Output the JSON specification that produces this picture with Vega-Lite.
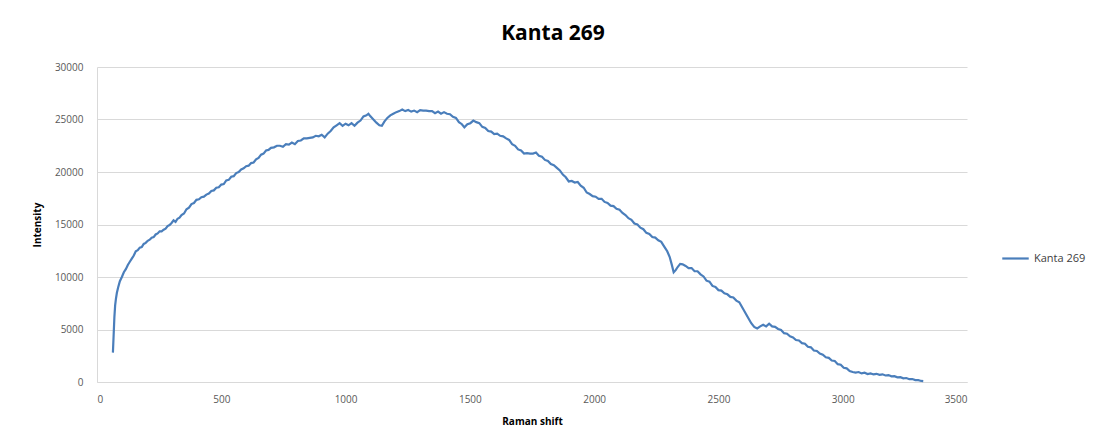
{
  "$schema": "https://vega.github.io/schema/vega-lite/v6.json",
  "autosize": "none",
  "width": 870,
  "height": 315,
  "padding": {"left": 97, "top": 67, "right": 138, "bottom": 63},
  "background": "white",
  "title": {"text": "Kanta 269", "font": "Open Sans", "fontSize": 21, "fontWeight": "bold", "color": "#000000", "anchor": "middle", "dx": 21, "offset": 18},
  "config": {
    "view": {"stroke": null},
    "font": "Open Sans"
  },
  "data": {"values": [
    {"s":"Kanta 269","x":64,"y":2800},{"s":"Kanta 269","x":67,"y":4500},{"s":"Kanta 269","x":70,"y":6200},{"s":"Kanta 269","x":73,"y":7300},{"s":"Kanta 269","x":76,"y":7900},{"s":"Kanta 269","x":80,"y":8500},{"s":"Kanta 269","x":85,"y":9000},{"s":"Kanta 269","x":92,"y":9600},{"s":"Kanta 269","x":100,"y":10000},{"s":"Kanta 269","x":108,"y":10450},{"s":"Kanta 269","x":116,"y":10750},{"s":"Kanta 269","x":124,"y":11150},{"s":"Kanta 269","x":132,"y":11450},{"s":"Kanta 269","x":140,"y":11750},{"s":"Kanta 269","x":148,"y":12050},{"s":"Kanta 269","x":156,"y":12450},{"s":"Kanta 269","x":164,"y":12550},{"s":"Kanta 269","x":172,"y":12800},{"s":"Kanta 269","x":180,"y":12850},{"s":"Kanta 269","x":188,"y":13150},{"s":"Kanta 269","x":196,"y":13250},{"s":"Kanta 269","x":204,"y":13450},{"s":"Kanta 269","x":212,"y":13550},{"s":"Kanta 269","x":220,"y":13750},{"s":"Kanta 269","x":228,"y":13800},{"s":"Kanta 269","x":236,"y":14050},{"s":"Kanta 269","x":244,"y":14150},{"s":"Kanta 269","x":252,"y":14350},{"s":"Kanta 269","x":260,"y":14350},{"s":"Kanta 269","x":268,"y":14500},{"s":"Kanta 269","x":276,"y":14600},{"s":"Kanta 269","x":284,"y":14850},{"s":"Kanta 269","x":292,"y":14950},{"s":"Kanta 269","x":300,"y":15150},{"s":"Kanta 269","x":308,"y":15400},{"s":"Kanta 269","x":316,"y":15250},{"s":"Kanta 269","x":324,"y":15550},{"s":"Kanta 269","x":332,"y":15650},{"s":"Kanta 269","x":340,"y":15900},{"s":"Kanta 269","x":350,"y":16050},{"s":"Kanta 269","x":360,"y":16450},{"s":"Kanta 269","x":370,"y":16600},{"s":"Kanta 269","x":380,"y":16950},{"s":"Kanta 269","x":390,"y":17050},{"s":"Kanta 269","x":400,"y":17350},{"s":"Kanta 269","x":410,"y":17400},{"s":"Kanta 269","x":420,"y":17600},{"s":"Kanta 269","x":430,"y":17650},{"s":"Kanta 269","x":440,"y":17850},{"s":"Kanta 269","x":450,"y":17950},{"s":"Kanta 269","x":460,"y":18200},{"s":"Kanta 269","x":470,"y":18250},{"s":"Kanta 269","x":480,"y":18500},{"s":"Kanta 269","x":490,"y":18550},{"s":"Kanta 269","x":500,"y":18800},{"s":"Kanta 269","x":510,"y":18850},{"s":"Kanta 269","x":520,"y":19200},{"s":"Kanta 269","x":530,"y":19250},{"s":"Kanta 269","x":540,"y":19550},{"s":"Kanta 269","x":550,"y":19600},{"s":"Kanta 269","x":560,"y":19900},{"s":"Kanta 269","x":570,"y":20000},{"s":"Kanta 269","x":580,"y":20250},{"s":"Kanta 269","x":590,"y":20350},{"s":"Kanta 269","x":600,"y":20550},{"s":"Kanta 269","x":610,"y":20600},{"s":"Kanta 269","x":620,"y":20850},{"s":"Kanta 269","x":630,"y":20900},{"s":"Kanta 269","x":640,"y":21200},{"s":"Kanta 269","x":650,"y":21350},{"s":"Kanta 269","x":660,"y":21650},{"s":"Kanta 269","x":670,"y":21750},{"s":"Kanta 269","x":680,"y":22050},{"s":"Kanta 269","x":690,"y":22100},{"s":"Kanta 269","x":700,"y":22300},{"s":"Kanta 269","x":712,"y":22350},{"s":"Kanta 269","x":724,"y":22500},{"s":"Kanta 269","x":736,"y":22500},{"s":"Kanta 269","x":748,"y":22400},{"s":"Kanta 269","x":760,"y":22650},{"s":"Kanta 269","x":772,"y":22600},{"s":"Kanta 269","x":784,"y":22800},{"s":"Kanta 269","x":796,"y":22650},{"s":"Kanta 269","x":808,"y":22950},{"s":"Kanta 269","x":820,"y":23000},{"s":"Kanta 269","x":832,"y":23200},{"s":"Kanta 269","x":844,"y":23200},{"s":"Kanta 269","x":856,"y":23250},{"s":"Kanta 269","x":868,"y":23300},{"s":"Kanta 269","x":880,"y":23450},{"s":"Kanta 269","x":892,"y":23400},{"s":"Kanta 269","x":904,"y":23550},{"s":"Kanta 269","x":916,"y":23300},{"s":"Kanta 269","x":928,"y":23650},{"s":"Kanta 269","x":940,"y":23900},{"s":"Kanta 269","x":952,"y":24250},{"s":"Kanta 269","x":964,"y":24450},{"s":"Kanta 269","x":976,"y":24650},{"s":"Kanta 269","x":988,"y":24400},{"s":"Kanta 269","x":1000,"y":24600},{"s":"Kanta 269","x":1012,"y":24450},{"s":"Kanta 269","x":1024,"y":24650},{"s":"Kanta 269","x":1036,"y":24400},{"s":"Kanta 269","x":1048,"y":24700},{"s":"Kanta 269","x":1060,"y":24900},{"s":"Kanta 269","x":1072,"y":25300},{"s":"Kanta 269","x":1084,"y":25400},{"s":"Kanta 269","x":1092,"y":25550},{"s":"Kanta 269","x":1100,"y":25300},{"s":"Kanta 269","x":1112,"y":25000},{"s":"Kanta 269","x":1124,"y":24700},{"s":"Kanta 269","x":1136,"y":24450},{"s":"Kanta 269","x":1146,"y":24400},{"s":"Kanta 269","x":1156,"y":24800},{"s":"Kanta 269","x":1168,"y":25150},{"s":"Kanta 269","x":1180,"y":25400},{"s":"Kanta 269","x":1192,"y":25550},{"s":"Kanta 269","x":1204,"y":25700},{"s":"Kanta 269","x":1216,"y":25800},{"s":"Kanta 269","x":1228,"y":25950},{"s":"Kanta 269","x":1240,"y":25800},{"s":"Kanta 269","x":1252,"y":25900},{"s":"Kanta 269","x":1264,"y":25750},{"s":"Kanta 269","x":1276,"y":25850},{"s":"Kanta 269","x":1288,"y":25700},{"s":"Kanta 269","x":1300,"y":25900},{"s":"Kanta 269","x":1312,"y":25850},{"s":"Kanta 269","x":1324,"y":25850},{"s":"Kanta 269","x":1336,"y":25800},{"s":"Kanta 269","x":1348,"y":25800},{"s":"Kanta 269","x":1360,"y":25600},{"s":"Kanta 269","x":1372,"y":25750},{"s":"Kanta 269","x":1384,"y":25550},{"s":"Kanta 269","x":1396,"y":25700},{"s":"Kanta 269","x":1408,"y":25550},{"s":"Kanta 269","x":1420,"y":25500},{"s":"Kanta 269","x":1432,"y":25250},{"s":"Kanta 269","x":1444,"y":25150},{"s":"Kanta 269","x":1456,"y":24750},{"s":"Kanta 269","x":1468,"y":24550},{"s":"Kanta 269","x":1478,"y":24250},{"s":"Kanta 269","x":1490,"y":24550},{"s":"Kanta 269","x":1502,"y":24650},{"s":"Kanta 269","x":1514,"y":24900},{"s":"Kanta 269","x":1526,"y":24750},{"s":"Kanta 269","x":1538,"y":24650},{"s":"Kanta 269","x":1550,"y":24300},{"s":"Kanta 269","x":1562,"y":24200},{"s":"Kanta 269","x":1574,"y":23900},{"s":"Kanta 269","x":1586,"y":23850},{"s":"Kanta 269","x":1598,"y":23600},{"s":"Kanta 269","x":1610,"y":23650},{"s":"Kanta 269","x":1622,"y":23450},{"s":"Kanta 269","x":1634,"y":23400},{"s":"Kanta 269","x":1646,"y":23200},{"s":"Kanta 269","x":1658,"y":23050},{"s":"Kanta 269","x":1670,"y":22650},{"s":"Kanta 269","x":1682,"y":22500},{"s":"Kanta 269","x":1694,"y":22150},{"s":"Kanta 269","x":1706,"y":22050},{"s":"Kanta 269","x":1718,"y":21750},{"s":"Kanta 269","x":1730,"y":21800},{"s":"Kanta 269","x":1742,"y":21750},{"s":"Kanta 269","x":1754,"y":21750},{"s":"Kanta 269","x":1766,"y":21850},{"s":"Kanta 269","x":1778,"y":21550},{"s":"Kanta 269","x":1790,"y":21450},{"s":"Kanta 269","x":1802,"y":21150},{"s":"Kanta 269","x":1814,"y":21050},{"s":"Kanta 269","x":1826,"y":20750},{"s":"Kanta 269","x":1838,"y":20650},{"s":"Kanta 269","x":1850,"y":20400},{"s":"Kanta 269","x":1862,"y":20150},{"s":"Kanta 269","x":1874,"y":19750},{"s":"Kanta 269","x":1886,"y":19500},{"s":"Kanta 269","x":1898,"y":19100},{"s":"Kanta 269","x":1910,"y":19150},{"s":"Kanta 269","x":1922,"y":19000},{"s":"Kanta 269","x":1934,"y":19050},{"s":"Kanta 269","x":1946,"y":18700},{"s":"Kanta 269","x":1958,"y":18500},{"s":"Kanta 269","x":1970,"y":18050},{"s":"Kanta 269","x":1982,"y":17900},{"s":"Kanta 269","x":1994,"y":17700},{"s":"Kanta 269","x":2006,"y":17650},{"s":"Kanta 269","x":2018,"y":17450},{"s":"Kanta 269","x":2030,"y":17450},{"s":"Kanta 269","x":2042,"y":17150},{"s":"Kanta 269","x":2054,"y":17050},{"s":"Kanta 269","x":2066,"y":16800},{"s":"Kanta 269","x":2078,"y":16750},{"s":"Kanta 269","x":2090,"y":16500},{"s":"Kanta 269","x":2102,"y":16400},{"s":"Kanta 269","x":2114,"y":16100},{"s":"Kanta 269","x":2126,"y":15900},{"s":"Kanta 269","x":2138,"y":15600},{"s":"Kanta 269","x":2150,"y":15450},{"s":"Kanta 269","x":2162,"y":15100},{"s":"Kanta 269","x":2174,"y":15000},{"s":"Kanta 269","x":2186,"y":14700},{"s":"Kanta 269","x":2198,"y":14550},{"s":"Kanta 269","x":2210,"y":14200},{"s":"Kanta 269","x":2222,"y":14100},{"s":"Kanta 269","x":2234,"y":13800},{"s":"Kanta 269","x":2246,"y":13750},{"s":"Kanta 269","x":2258,"y":13500},{"s":"Kanta 269","x":2270,"y":13350},{"s":"Kanta 269","x":2282,"y":12900},{"s":"Kanta 269","x":2294,"y":12450},{"s":"Kanta 269","x":2304,"y":11900},{"s":"Kanta 269","x":2312,"y":11200},{"s":"Kanta 269","x":2320,"y":10450},{"s":"Kanta 269","x":2328,"y":10650},{"s":"Kanta 269","x":2336,"y":10950},{"s":"Kanta 269","x":2346,"y":11250},{"s":"Kanta 269","x":2356,"y":11200},{"s":"Kanta 269","x":2368,"y":11050},{"s":"Kanta 269","x":2380,"y":10850},{"s":"Kanta 269","x":2392,"y":10850},{"s":"Kanta 269","x":2404,"y":10550},{"s":"Kanta 269","x":2416,"y":10550},{"s":"Kanta 269","x":2428,"y":10250},{"s":"Kanta 269","x":2440,"y":10050},{"s":"Kanta 269","x":2452,"y":9650},{"s":"Kanta 269","x":2464,"y":9550},{"s":"Kanta 269","x":2476,"y":9150},{"s":"Kanta 269","x":2488,"y":9050},{"s":"Kanta 269","x":2500,"y":8750},{"s":"Kanta 269","x":2512,"y":8700},{"s":"Kanta 269","x":2524,"y":8450},{"s":"Kanta 269","x":2536,"y":8350},{"s":"Kanta 269","x":2548,"y":8100},{"s":"Kanta 269","x":2560,"y":8050},{"s":"Kanta 269","x":2572,"y":7750},{"s":"Kanta 269","x":2584,"y":7600},{"s":"Kanta 269","x":2596,"y":7100},{"s":"Kanta 269","x":2608,"y":6600},{"s":"Kanta 269","x":2620,"y":6100},{"s":"Kanta 269","x":2632,"y":5600},{"s":"Kanta 269","x":2644,"y":5250},{"s":"Kanta 269","x":2656,"y":5100},{"s":"Kanta 269","x":2668,"y":5300},{"s":"Kanta 269","x":2680,"y":5450},{"s":"Kanta 269","x":2692,"y":5300},{"s":"Kanta 269","x":2704,"y":5550},{"s":"Kanta 269","x":2716,"y":5300},{"s":"Kanta 269","x":2728,"y":5250},{"s":"Kanta 269","x":2740,"y":5050},{"s":"Kanta 269","x":2752,"y":4950},{"s":"Kanta 269","x":2764,"y":4650},{"s":"Kanta 269","x":2776,"y":4600},{"s":"Kanta 269","x":2788,"y":4350},{"s":"Kanta 269","x":2800,"y":4250},{"s":"Kanta 269","x":2812,"y":4000},{"s":"Kanta 269","x":2824,"y":3950},{"s":"Kanta 269","x":2836,"y":3700},{"s":"Kanta 269","x":2848,"y":3650},{"s":"Kanta 269","x":2860,"y":3350},{"s":"Kanta 269","x":2872,"y":3300},{"s":"Kanta 269","x":2884,"y":3000},{"s":"Kanta 269","x":2896,"y":2950},{"s":"Kanta 269","x":2908,"y":2700},{"s":"Kanta 269","x":2920,"y":2600},{"s":"Kanta 269","x":2932,"y":2350},{"s":"Kanta 269","x":2944,"y":2300},{"s":"Kanta 269","x":2956,"y":2050},{"s":"Kanta 269","x":2968,"y":2000},{"s":"Kanta 269","x":2980,"y":1700},{"s":"Kanta 269","x":2992,"y":1650},{"s":"Kanta 269","x":3004,"y":1350},{"s":"Kanta 269","x":3016,"y":1300},{"s":"Kanta 269","x":3028,"y":1050},{"s":"Kanta 269","x":3040,"y":950},{"s":"Kanta 269","x":3052,"y":900},{"s":"Kanta 269","x":3064,"y":950},{"s":"Kanta 269","x":3076,"y":820},{"s":"Kanta 269","x":3088,"y":880},{"s":"Kanta 269","x":3100,"y":760},{"s":"Kanta 269","x":3112,"y":820},{"s":"Kanta 269","x":3124,"y":720},{"s":"Kanta 269","x":3136,"y":780},{"s":"Kanta 269","x":3148,"y":680},{"s":"Kanta 269","x":3160,"y":730},{"s":"Kanta 269","x":3172,"y":620},{"s":"Kanta 269","x":3184,"y":660},{"s":"Kanta 269","x":3196,"y":540},{"s":"Kanta 269","x":3208,"y":560},{"s":"Kanta 269","x":3220,"y":450},{"s":"Kanta 269","x":3232,"y":460},{"s":"Kanta 269","x":3244,"y":350},{"s":"Kanta 269","x":3256,"y":380},{"s":"Kanta 269","x":3268,"y":270},{"s":"Kanta 269","x":3280,"y":280},{"s":"Kanta 269","x":3292,"y":180},{"s":"Kanta 269","x":3304,"y":170},{"s":"Kanta 269","x":3316,"y":100},{"s":"Kanta 269","x":3324,"y":80}
  ]},
  "mark": {"type": "line", "strokeWidth": 2.2, "interpolate": "linear"},
  "encoding": {
    "x": {
      "field": "x", "type": "quantitative",
      "scale": {"domain": [0, 3500], "nice": false, "zero": false},
      "axis": {
        "title": "Raman shift", "titleFont": "Open Sans", "titleFontSize": 10, "titleFontWeight": "bold", "titleColor": "#000000", "titlePadding": 12,
        "values": [0, 500, 1000, 1500, 2000, 2500, 3000, 3500], "format": "d",
        "labelFont": "Open Sans", "labelFontSize": 10, "labelColor": "#595959", "labelPadding": 12,
        "grid": false, "domainColor": "#d9d9d9", "ticks": false
      }
    },
    "y": {
      "field": "y", "type": "quantitative",
      "scale": {"domain": [0, 30000], "nice": false},
      "axis": {
        "title": "Intensity", "titleFont": "Open Sans", "titleFontSize": 10, "titleFontWeight": "bold", "titleColor": "#000000", "titlePadding": 12,
        "values": [0, 5000, 10000, 15000, 20000, 25000, 30000], "format": "d",
        "labelFont": "Open Sans", "labelFontSize": 10, "labelColor": "#595959", "labelPadding": 14,
        "grid": true, "gridColor": "#d9d9d9", "gridWidth": 1, "domainColor": "#d9d9d9", "ticks": false
      }
    },
    "color": {
      "field": "s", "type": "nominal",
      "scale": {"range": ["#4a7ebb"]},
      "legend": {
        "title": null, "orient": "none", "legendX": 904, "legendY": 177,
        "symbolType": "stroke", "symbolSize": 700, "symbolStrokeWidth": 2.2,
        "labelFont": "Open Sans", "labelFontSize": 11, "labelColor": "#404040", "labelOffset": 4
      }
    }
  }
}
